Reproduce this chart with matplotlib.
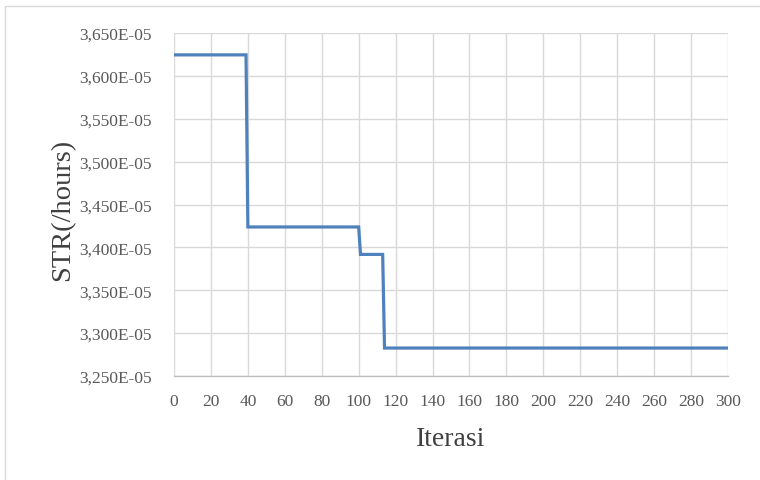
import matplotlib.pyplot as plt
from matplotlib.patches import Rectangle
from matplotlib.ticker import FuncFormatter, MultipleLocator

# breakpoints of the step curve (Excel line, so drops are drawn point to point)
iterasi = [0, 39, 40, 100, 101, 113, 114, 300]
str_hours = [3.6245e-05, 3.6245e-05, 3.4238e-05, 3.4238e-05,
             3.3918e-05, 3.3918e-05, 3.2826e-05, 3.2826e-05]

plt.rcParams['font.family'] = ['Liberation Serif', 'DejaVu Serif']

fig = plt.figure(figsize=(7.6, 4.81), dpi=100)
ax = fig.add_axes([174 / 760, 1 - 377 / 481, (728 - 174) / 760, (377 - 34) / 481])

ax.plot(iterasi, str_hours, color='#4f81bd', linewidth=2.3, solid_joinstyle='miter')

ax.set_xlim(0, 300)
ax.set_ylim(3.25e-05, 3.65e-05)
ax.xaxis.set_major_locator(MultipleLocator(20))
ax.yaxis.set_major_locator(MultipleLocator(0.05e-05))
ax.yaxis.set_major_formatter(FuncFormatter(
    lambda v, p: f"{v * 1e5:.3f}".replace('.', ',') + "E-05"))
ax.yaxis.get_offset_text().set_visible(False)

ax.grid(True, color='#d9d9d9', linewidth=1)
ax.set_axisbelow(True)
for s in ['top', 'right', 'left']:
    ax.spines[s].set_visible(False)
ax.spines['bottom'].set_color('#bfbfbf')
ax.spines['bottom'].set_linewidth(1)
ax.tick_params(length=0, labelsize=12.5, colors='#595959')
ax.tick_params(axis='y', pad=16)
ax.tick_params(axis='x', pad=12)

ax.set_xlabel('Iterasi', fontsize=20, color='#404040')
ax.set_ylabel('STR(/hours)', fontsize=20.5, color='#404040')
ax.xaxis.set_label_coords(0.5, -0.147)
ax.yaxis.set_label_coords(-0.179, 0.487)

# chart area border
fig.patches.append(Rectangle((5 / 760, -0.1), 1.2, 1 - 7 / 481 + 0.1,
                             transform=fig.transFigure, fill=False,
                             edgecolor='#d9d9d9', linewidth=1))

fig.savefig('out.png', dpi=100)
